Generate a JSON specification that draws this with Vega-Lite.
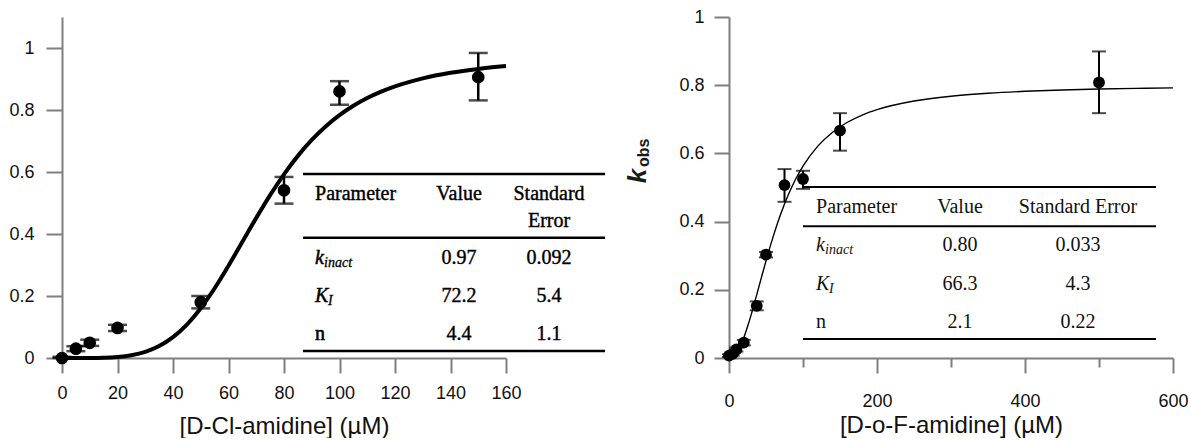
{
  "$schema": "https://vega.github.io/schema/vega-lite/v6.json",
  "background": "white",
  "padding": {"left": 8, "top": 8, "right": 0, "bottom": 0},
  "bounds": "flush",
  "spacing": 223,
  "config": {
    "view": {"stroke": null},
    "axis": {
      "grid": false,
      "domainColor": "#7f7f7f",
      "domainWidth": 2,
      "tickColor": "#7f7f7f",
      "tickWidth": 2,
      "labelFont": "Liberation Sans",
      "labelFontSize": 18,
      "labelColor": "#111111",
      "titleFont": "Liberation Sans",
      "titleFontSize": 24,
      "titleFontWeight": "normal",
      "titleColor": "#111111",
      "labelFlush": false,
      "labelOverlap": false
    }
  },
  "datasets": {
    "ptsL": [
      {"x": 0, "y": 0, "lo": 0, "hi": 0.004},
      {"x": 5, "y": 0.03, "lo": 0.022, "hi": 0.038},
      {"x": 10, "y": 0.049, "lo": 0.039, "hi": 0.059},
      {"x": 20, "y": 0.097, "lo": 0.087, "hi": 0.107},
      {"x": 50, "y": 0.18, "lo": 0.16, "hi": 0.2},
      {"x": 80, "y": 0.541, "lo": 0.498, "hi": 0.584},
      {"x": 100, "y": 0.86, "lo": 0.817, "hi": 0.893},
      {"x": 150, "y": 0.906, "lo": 0.831, "hi": 0.984}
    ],
    "curveL": [
      {"x": 0, "y": 0}, {"x": 5, "y": 0.00001}, {"x": 10, "y": 0.00016}, {"x": 15, "y": 0.00096},
      {"x": 20, "y": 0.0034}, {"x": 25, "y": 0.009}, {"x": 30, "y": 0.0199}, {"x": 35, "y": 0.0385},
      {"x": 40, "y": 0.0671}, {"x": 45, "y": 0.1077}, {"x": 50, "y": 0.1607}, {"x": 55, "y": 0.225},
      {"x": 60, "y": 0.2977}, {"x": 65, "y": 0.3749}, {"x": 70, "y": 0.452}, {"x": 75, "y": 0.5255},
      {"x": 80, "y": 0.5926}, {"x": 85, "y": 0.652}, {"x": 90, "y": 0.7033}, {"x": 95, "y": 0.7468},
      {"x": 100, "y": 0.7832}, {"x": 105, "y": 0.8135}, {"x": 110, "y": 0.8385}, {"x": 115, "y": 0.8592},
      {"x": 120, "y": 0.8763}, {"x": 130, "y": 0.9022}, {"x": 140, "y": 0.92}, {"x": 150, "y": 0.9326},
      {"x": 160, "y": 0.9417}
    ],
    "tabL": [
      {"param": "k", "sub": "inact", "val": "0.97", "se": "0.092", "row": 1},
      {"param": "K", "sub": "I", "val": "72.2", "se": "5.4", "row": 2},
      {"param": "n", "sub": "", "val": "4.4", "se": "1.1", "row": 3}
    ],
    "ptsR": [
      {"x": 0, "y": 0.007, "lo": 0.003, "hi": 0.011},
      {"x": 5, "y": 0.012, "lo": 0.007, "hi": 0.017},
      {"x": 10, "y": 0.025, "lo": 0.019, "hi": 0.031},
      {"x": 20, "y": 0.045, "lo": 0.037, "hi": 0.053},
      {"x": 37.5, "y": 0.153, "lo": 0.14, "hi": 0.166},
      {"x": 50, "y": 0.303, "lo": 0.295, "hi": 0.311},
      {"x": 75, "y": 0.507, "lo": 0.458, "hi": 0.554},
      {"x": 100, "y": 0.525, "lo": 0.496, "hi": 0.549},
      {"x": 150, "y": 0.667, "lo": 0.608, "hi": 0.718},
      {"x": 500, "y": 0.808, "lo": 0.718, "hi": 0.899}
    ],
    "curveR": [
      {"x": 0, "y": 0}, {"x": 5, "y": 0.0035}, {"x": 10, "y": 0.0148}, {"x": 15, "y": 0.0338},
      {"x": 20, "y": 0.0597}, {"x": 25, "y": 0.0914}, {"x": 30, "y": 0.1272}, {"x": 35, "y": 0.166},
      {"x": 40, "y": 0.2057}, {"x": 45, "y": 0.2457}, {"x": 50, "y": 0.2848}, {"x": 60, "y": 0.3582},
      {"x": 70, "y": 0.4228}, {"x": 80, "y": 0.4779}, {"x": 90, "y": 0.5241}, {"x": 100, "y": 0.5626},
      {"x": 120, "y": 0.6213}, {"x": 140, "y": 0.6622}, {"x": 160, "y": 0.6913}, {"x": 180, "y": 0.7125},
      {"x": 200, "y": 0.7283}, {"x": 250, "y": 0.7536}, {"x": 300, "y": 0.7678}, {"x": 350, "y": 0.7764},
      {"x": 400, "y": 0.7821}, {"x": 450, "y": 0.7859}, {"x": 500, "y": 0.7887}, {"x": 550, "y": 0.7907},
      {"x": 600, "y": 0.7922}
    ],
    "tabR": [
      {"param": "k", "sub": "inact", "val": "0.80", "se": "0.033", "row": 1},
      {"param": "K", "sub": "I", "val": "66.3", "se": "4.3", "row": 2},
      {"param": "n", "sub": "", "val": "2.1", "se": "0.22", "row": 3}
    ],
    "one": [{}]
  },
  "hconcat": [
    {
      "width": 444,
      "height": 341,
      "resolve": {"scale": {"y": "independent"}},
      "layer": [
        {
          "data": {"name": "tabL"},
          "layer": [
            {"data": {"name": "one"}, "mark": {"type": "rule", "color": "black", "strokeWidth": 2.5},
             "encoding": {"x": {"datum": 86.85, "type": "quantitative", "scale": {"domain": [0, 160], "nice": false, "zero": false}}, "x2": {"datum": 195.7},
                          "y": {"datum": -1.21, "type": "quantitative", "scale": {"domain": [-5.342, 3.632], "reverse": true, "nice": false, "zero": false}, "axis": null}}},
            {"data": {"name": "one"}, "mark": {"type": "rule", "color": "black", "strokeWidth": 2.5},
             "encoding": {"x": {"datum": 86.85, "type": "quantitative", "scale": {"domain": [0, 160], "nice": false, "zero": false}}, "x2": {"datum": 195.7},
                          "y": {"datum": 0.47, "type": "quantitative", "scale": {"domain": [-5.342, 3.632], "reverse": true, "nice": false, "zero": false}, "axis": null}}},
            {"data": {"name": "one"}, "mark": {"type": "rule", "color": "black", "strokeWidth": 2.5},
             "encoding": {"x": {"datum": 86.85, "type": "quantitative", "scale": {"domain": [0, 160], "nice": false, "zero": false}}, "x2": {"datum": 195.7},
                          "y": {"datum": 3.45, "type": "quantitative", "scale": {"domain": [-5.342, 3.632], "reverse": true, "nice": false, "zero": false}, "axis": null}}},
            {"data": {"name": "one"}, "mark": {"type": "text", "text": "Parameter", "align": "left", "baseline": "middle", "font": "Liberation Serif", "fontSize": 20, "color": "black", "stroke": "black", "strokeWidth": 0.4},
             "encoding": {"x": {"datum": 91.2, "type": "quantitative", "scale": {"domain": [0, 160], "nice": false, "zero": false}},
                          "y": {"datum": -0.684, "type": "quantitative", "scale": {"domain": [-5.342, 3.632], "reverse": true, "nice": false, "zero": false}, "axis": null}}},
            {"data": {"name": "one"}, "mark": {"type": "text", "text": "Value", "align": "center", "baseline": "middle", "font": "Liberation Serif", "fontSize": 20, "color": "black", "stroke": "black", "strokeWidth": 0.4},
             "encoding": {"x": {"datum": 143.1, "type": "quantitative", "scale": {"domain": [0, 160], "nice": false, "zero": false}},
                          "y": {"datum": -0.684, "type": "quantitative", "scale": {"domain": [-5.342, 3.632], "reverse": true, "nice": false, "zero": false}, "axis": null}}},
            {"data": {"name": "one"}, "mark": {"type": "text", "text": "Standard", "align": "center", "baseline": "middle", "font": "Liberation Serif", "fontSize": 20, "color": "black", "stroke": "black", "strokeWidth": 0.4},
             "encoding": {"x": {"datum": 175.5, "type": "quantitative", "scale": {"domain": [0, 160], "nice": false, "zero": false}},
                          "y": {"datum": -0.684, "type": "quantitative", "scale": {"domain": [-5.342, 3.632], "reverse": true, "nice": false, "zero": false}, "axis": null}}},
            {"data": {"name": "one"}, "mark": {"type": "text", "text": "Error", "align": "center", "baseline": "middle", "font": "Liberation Serif", "fontSize": 20, "color": "black", "stroke": "black", "strokeWidth": 0.4},
             "encoding": {"x": {"datum": 175.5, "type": "quantitative", "scale": {"domain": [0, 160], "nice": false, "zero": false}},
                          "y": {"datum": 0.026, "type": "quantitative", "scale": {"domain": [-5.342, 3.632], "reverse": true, "nice": false, "zero": false}, "axis": null}}},
            {"transform": [{"filter": "datum.param !== 'n'"}],
             "mark": {"type": "text", "align": "left", "baseline": "middle", "font": "Liberation Serif", "fontSize": 20, "fontStyle": "italic", "color": "black", "stroke": "black", "strokeWidth": 0.5},
             "encoding": {"text": {"field": "param"}, "x": {"datum": 91.2, "type": "quantitative", "scale": {"domain": [0, 160], "nice": false, "zero": false}},
                          "y": {"field": "row", "type": "quantitative", "scale": {"domain": [-5.342, 3.632], "reverse": true, "nice": false, "zero": false}, "axis": null}}},
            {"transform": [{"filter": "datum.param === 'n'"}],
             "mark": {"type": "text", "align": "left", "baseline": "middle", "font": "Liberation Serif", "fontSize": 20, "color": "black", "stroke": "black", "strokeWidth": 0.6},
             "encoding": {"text": {"field": "param"}, "x": {"datum": 91.2, "type": "quantitative", "scale": {"domain": [0, 160], "nice": false, "zero": false}},
                          "y": {"field": "row", "type": "quantitative", "scale": {"domain": [-5.342, 3.632], "reverse": true, "nice": false, "zero": false}, "axis": null}}},
            {"transform": [{"filter": "datum.param === 'k'"}],
             "mark": {"type": "text", "align": "left", "baseline": "middle", "dx": 9, "dy": 5, "font": "Liberation Serif", "fontSize": 14, "fontStyle": "italic", "color": "black", "stroke": "black", "strokeWidth": 0.3},
             "encoding": {"text": {"field": "sub"}, "x": {"datum": 91.2, "type": "quantitative", "scale": {"domain": [0, 160], "nice": false, "zero": false}},
                          "y": {"field": "row", "type": "quantitative", "scale": {"domain": [-5.342, 3.632], "reverse": true, "nice": false, "zero": false}, "axis": null}}},
            {"transform": [{"filter": "datum.param === 'K'"}],
             "mark": {"type": "text", "align": "left", "baseline": "middle", "dx": 13, "dy": 5, "font": "Liberation Serif", "fontSize": 14, "fontStyle": "italic", "color": "black", "stroke": "black", "strokeWidth": 0.3},
             "encoding": {"text": {"field": "sub"}, "x": {"datum": 91.2, "type": "quantitative", "scale": {"domain": [0, 160], "nice": false, "zero": false}},
                          "y": {"field": "row", "type": "quantitative", "scale": {"domain": [-5.342, 3.632], "reverse": true, "nice": false, "zero": false}, "axis": null}}},
            {"mark": {"type": "text", "align": "center", "baseline": "middle", "font": "Liberation Serif", "fontSize": 20, "color": "black", "stroke": "black", "strokeWidth": 0.4},
             "encoding": {"text": {"field": "val"}, "x": {"datum": 143.1, "type": "quantitative", "scale": {"domain": [0, 160], "nice": false, "zero": false}},
                          "y": {"field": "row", "type": "quantitative", "scale": {"domain": [-5.342, 3.632], "reverse": true, "nice": false, "zero": false}, "axis": null}}},
            {"mark": {"type": "text", "align": "center", "baseline": "middle", "font": "Liberation Serif", "fontSize": 20, "color": "black", "stroke": "black", "strokeWidth": 0.4},
             "encoding": {"text": {"field": "se"}, "x": {"datum": 175.5, "type": "quantitative", "scale": {"domain": [0, 160], "nice": false, "zero": false}},
                          "y": {"field": "row", "type": "quantitative", "scale": {"domain": [-5.342, 3.632], "reverse": true, "nice": false, "zero": false}, "axis": null}}}
          ]
        },
        {
          "layer": [
            {"data": {"name": "curveL"}, "mark": {"type": "line", "color": "black", "strokeWidth": 4, "interpolate": "monotone"},
             "encoding": {
               "x": {"field": "x", "type": "quantitative", "scale": {"domain": [0, 160], "nice": false, "zero": false},
                     "axis": {"title": "[D-Cl-amidine] (µM)", "values": [0, 10, 20, 30, 40, 50, 60, 70, 80, 90, 100, 110, 120, 130, 140, 150, 160], "format": "d",
                              "labelExpr": "datum.value % 20 === 0 ? datum.label : ''",
                              "tickSize": {"condition": {"test": "datum.value % 20 === 0", "value": 15}, "value": 10},
                              "labelPadding": 11, "titlePadding": 12}},
               "y": {"field": "y", "type": "quantitative", "scale": {"domain": [0, 1.1], "nice": false, "zero": false},
                     "axis": {"title": null, "values": [0, 0.1, 0.2, 0.3, 0.4, 0.5, 0.6, 0.7, 0.8, 0.9, 1, 1.1], "format": "~g",
                              "labelExpr": "round(datum.value * 10) % 2 === 0 ? datum.label : ''",
                              "tickSize": {"condition": {"test": "round(datum.value * 10) % 2 === 0", "value": 16}, "value": 11},
                              "labelPadding": 12}}
             }},
            {"data": {"name": "ptsL"}, "mark": {"type": "errorbar", "ticks": true, "size": 19, "thickness": 2.5, "color": "black"},
             "encoding": {
               "x": {"field": "x", "type": "quantitative", "scale": {"domain": [0, 160], "nice": false, "zero": false}},
               "y": {"field": "lo", "type": "quantitative", "scale": {"domain": [0, 1.1], "nice": false, "zero": false}},
               "y2": {"field": "hi"}
             }},
            {"data": {"name": "ptsL"}, "mark": {"type": "point", "filled": true, "shape": "circle", "color": "black", "size": 160, "opacity": 1},
             "encoding": {
               "x": {"field": "x", "type": "quantitative", "scale": {"domain": [0, 160], "nice": false, "zero": false}},
               "y": {"field": "y", "type": "quantitative", "scale": {"domain": [0, 1.1], "nice": false, "zero": false}}
             }}
          ]
        }
      ]
    },
    {
      "width": 444,
      "height": 341,
      "resolve": {"scale": {"y": "independent"}},
      "layer": [
        {
          "data": {"name": "tabR"},
          "layer": [
            {"data": {"name": "one"}, "mark": {"type": "rule", "color": "black", "strokeWidth": 2},
             "encoding": {"x": {"datum": 100, "type": "quantitative", "scale": {"domain": [0, 600], "nice": false, "zero": false}}, "x2": {"datum": 577},
                          "y": {"datum": -0.52, "type": "quantitative", "scale": {"domain": [-4.961, 3.943], "reverse": true, "nice": false, "zero": false}, "axis": null}}},
            {"data": {"name": "one"}, "mark": {"type": "rule", "color": "black", "strokeWidth": 2},
             "encoding": {"x": {"datum": 100, "type": "quantitative", "scale": {"domain": [0, 600], "nice": false, "zero": false}}, "x2": {"datum": 577},
                          "y": {"datum": 0.5, "type": "quantitative", "scale": {"domain": [-4.961, 3.943], "reverse": true, "nice": false, "zero": false}, "axis": null}}},
            {"data": {"name": "one"}, "mark": {"type": "rule", "color": "black", "strokeWidth": 2},
             "encoding": {"x": {"datum": 100, "type": "quantitative", "scale": {"domain": [0, 600], "nice": false, "zero": false}}, "x2": {"datum": 577},
                          "y": {"datum": 3.45, "type": "quantitative", "scale": {"domain": [-4.961, 3.943], "reverse": true, "nice": false, "zero": false}, "axis": null}}},
            {"data": {"name": "one"}, "mark": {"type": "text", "text": "Parameter", "align": "left", "baseline": "middle", "font": "Liberation Serif", "fontSize": 20, "color": "#111111"},
             "encoding": {"x": {"datum": 117.6, "type": "quantitative", "scale": {"domain": [0, 600], "nice": false, "zero": false}},
                          "y": {"datum": 0, "type": "quantitative", "scale": {"domain": [-4.961, 3.943], "reverse": true, "nice": false, "zero": false}, "axis": null}}},
            {"data": {"name": "one"}, "mark": {"type": "text", "text": "Value", "align": "center", "baseline": "middle", "font": "Liberation Serif", "fontSize": 20, "color": "#111111"},
             "encoding": {"x": {"datum": 312.2, "type": "quantitative", "scale": {"domain": [0, 600], "nice": false, "zero": false}},
                          "y": {"datum": 0, "type": "quantitative", "scale": {"domain": [-4.961, 3.943], "reverse": true, "nice": false, "zero": false}, "axis": null}}},
            {"data": {"name": "one"}, "mark": {"type": "text", "text": "Standard Error", "align": "center", "baseline": "middle", "font": "Liberation Serif", "fontSize": 20, "color": "#111111"},
             "encoding": {"x": {"datum": 471.6, "type": "quantitative", "scale": {"domain": [0, 600], "nice": false, "zero": false}},
                          "y": {"datum": 0, "type": "quantitative", "scale": {"domain": [-4.961, 3.943], "reverse": true, "nice": false, "zero": false}, "axis": null}}},
            {"transform": [{"filter": "datum.param !== 'n'"}],
             "mark": {"type": "text", "align": "left", "baseline": "middle", "font": "Liberation Serif", "fontSize": 20, "fontStyle": "italic", "color": "#111111"},
             "encoding": {"text": {"field": "param"}, "x": {"datum": 117.6, "type": "quantitative", "scale": {"domain": [0, 600], "nice": false, "zero": false}},
                          "y": {"field": "row", "type": "quantitative", "scale": {"domain": [-4.961, 3.943], "reverse": true, "nice": false, "zero": false}, "axis": null}}},
            {"transform": [{"filter": "datum.param === 'n'"}],
             "mark": {"type": "text", "align": "left", "baseline": "middle", "font": "Liberation Serif", "fontSize": 20, "color": "#111111"},
             "encoding": {"text": {"field": "param"}, "x": {"datum": 117.6, "type": "quantitative", "scale": {"domain": [0, 600], "nice": false, "zero": false}},
                          "y": {"field": "row", "type": "quantitative", "scale": {"domain": [-4.961, 3.943], "reverse": true, "nice": false, "zero": false}, "axis": null}}},
            {"transform": [{"filter": "datum.param === 'k'"}],
             "mark": {"type": "text", "align": "left", "baseline": "middle", "dx": 9, "dy": 5, "font": "Liberation Serif", "fontSize": 14, "fontStyle": "italic", "color": "#111111"},
             "encoding": {"text": {"field": "sub"}, "x": {"datum": 117.6, "type": "quantitative", "scale": {"domain": [0, 600], "nice": false, "zero": false}},
                          "y": {"field": "row", "type": "quantitative", "scale": {"domain": [-4.961, 3.943], "reverse": true, "nice": false, "zero": false}, "axis": null}}},
            {"transform": [{"filter": "datum.param === 'K'"}],
             "mark": {"type": "text", "align": "left", "baseline": "middle", "dx": 13, "dy": 5, "font": "Liberation Serif", "fontSize": 14, "fontStyle": "italic", "color": "#111111"},
             "encoding": {"text": {"field": "sub"}, "x": {"datum": 117.6, "type": "quantitative", "scale": {"domain": [0, 600], "nice": false, "zero": false}},
                          "y": {"field": "row", "type": "quantitative", "scale": {"domain": [-4.961, 3.943], "reverse": true, "nice": false, "zero": false}, "axis": null}}},
            {"mark": {"type": "text", "align": "center", "baseline": "middle", "font": "Liberation Serif", "fontSize": 20, "color": "#111111"},
             "encoding": {"text": {"field": "val"}, "x": {"datum": 312.2, "type": "quantitative", "scale": {"domain": [0, 600], "nice": false, "zero": false}},
                          "y": {"field": "row", "type": "quantitative", "scale": {"domain": [-4.961, 3.943], "reverse": true, "nice": false, "zero": false}, "axis": null}}},
            {"mark": {"type": "text", "align": "center", "baseline": "middle", "font": "Liberation Serif", "fontSize": 20, "color": "#111111"},
             "encoding": {"text": {"field": "se"}, "x": {"datum": 471.6, "type": "quantitative", "scale": {"domain": [0, 600], "nice": false, "zero": false}},
                          "y": {"field": "row", "type": "quantitative", "scale": {"domain": [-4.961, 3.943], "reverse": true, "nice": false, "zero": false}, "axis": null}}}
          ]
        },
        {
          "layer": [
            {"data": {"name": "curveR"}, "mark": {"type": "line", "color": "black", "strokeWidth": 1.4, "interpolate": "monotone"},
             "encoding": {
               "x": {"field": "x", "type": "quantitative", "scale": {"domain": [0, 600], "nice": false, "zero": false},
                     "axis": {"title": "[D-o-F-amidine] (µM)", "values": [0, 100, 200, 300, 400, 500, 600], "format": "d",
                              "labelExpr": "datum.value % 200 === 0 ? datum.label : ''",
                              "tickSize": {"condition": {"test": "datum.value % 200 === 0", "value": 15}, "value": 9},
                              "labelPadding": 19, "titlePadding": 3}},
               "y": {"field": "y", "type": "quantitative", "scale": {"domain": [0, 1], "nice": false, "zero": false},
                     "axis": {"title": null, "values": [0, 0.1, 0.2, 0.3, 0.4, 0.5, 0.6, 0.7, 0.8, 0.9, 1], "format": "~g",
                              "labelExpr": "round(datum.value * 10) % 2 === 0 ? datum.label : ''",
                              "tickSize": {"condition": {"test": "round(datum.value * 10) % 2 === 0", "value": 15}, "value": 11},
                              "labelPadding": 10}}
             }},
            {"data": {"name": "ptsR"}, "mark": {"type": "errorbar", "ticks": true, "size": 14, "thickness": 2, "color": "black"},
             "encoding": {
               "x": {"field": "x", "type": "quantitative", "scale": {"domain": [0, 600], "nice": false, "zero": false}},
               "y": {"field": "lo", "type": "quantitative", "scale": {"domain": [0, 1], "nice": false, "zero": false}},
               "y2": {"field": "hi"}
             }},
            {"data": {"name": "ptsR"}, "mark": {"type": "point", "filled": true, "shape": "circle", "color": "black", "size": 140, "opacity": 1},
             "encoding": {
               "x": {"field": "x", "type": "quantitative", "scale": {"domain": [0, 600], "nice": false, "zero": false}},
               "y": {"field": "y", "type": "quantitative", "scale": {"domain": [0, 1], "nice": false, "zero": false}}
             }},
            {"data": {"name": "one"}, "mark": {"type": "text", "text": "k", "angle": 270, "align": "center", "baseline": "alphabetic", "font": "Liberation Sans", "fontSize": 26, "fontStyle": "italic", "fontWeight": "bold", "color": "#1a1a1a"},
             "encoding": {
               "x": {"datum": -112.2, "type": "quantitative", "scale": {"domain": [0, 600], "nice": false, "zero": false}},
               "y": {"datum": 0.534, "type": "quantitative", "scale": {"domain": [0, 1], "nice": false, "zero": false}}
             }},
            {"data": {"name": "one"}, "mark": {"type": "text", "text": "obs", "angle": 270, "align": "center", "baseline": "alphabetic", "font": "Liberation Sans", "fontSize": 16, "fontWeight": "bold", "color": "#1a1a1a"},
             "encoding": {
               "x": {"datum": -108.1, "type": "quantitative", "scale": {"domain": [0, 600], "nice": false, "zero": false}},
               "y": {"datum": 0.602, "type": "quantitative", "scale": {"domain": [0, 1], "nice": false, "zero": false}}
             }}
          ]
        }
      ]
    }
  ]
}
